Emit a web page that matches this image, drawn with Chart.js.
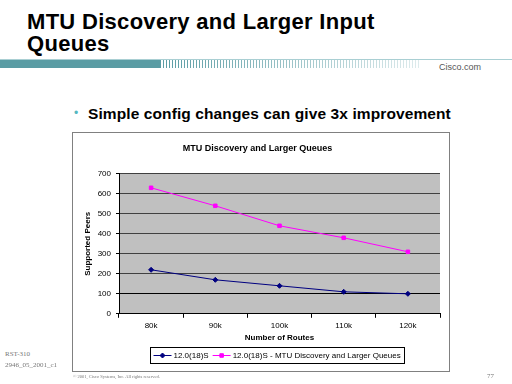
<!DOCTYPE html>
<html>
<head>
<meta charset="utf-8">
<script src="https://cdn.jsdelivr.net/npm/chart.js@4.4.1/dist/chart.umd.min.js"></script>
<style>
  body { margin: 0; width: 512px; height: 384px; background: #fff; position: relative; overflow: hidden; font-family: "Liberation Sans", Arial, sans-serif; }
  .abs { position: absolute; }
  #title { left: 27px; top: 11px; font-size: 22px; font-weight: bold; line-height: 22px; letter-spacing: 0.3px; color: #000; }
  #rule { left: 0; top: 59px; width: 512px; height: 1px; background: #a9cfd3; }
  #bar { left: 0; top: 60px; width: 160px; height: 8px; background: #5a9ca4; }
  #stripes { left: 160px; top: 60px; width: 260px; height: 8px;
    background: linear-gradient(to right, rgba(255,255,255,0), rgba(255,255,255,0.8)),
                repeating-linear-gradient(90deg, #5a9ca4 0 1px, transparent 1px 3px); }
  #cisco { left: 439px; top: 62px; font-size: 9px; color: #555; }
  #bullet { left: 74px; top: 106px; font-size: 12px; color: #55b8c0; }
  #point { left: 88px; top: 105.5px; font-size: 15.5px; line-height: 16px; letter-spacing: 0.1px; font-weight: bold; color: #000; }
  #box { left: 72px; top: 132px; width: 376px; height: 238px; border: 1px solid #808080; }
  .foot { font-family: "Liberation Serif", "Times New Roman", serif; color: #777; }
</style>
</head>
<body>
<div id="title" class="abs">MTU Discovery and Larger Input<br>Queues</div>
<div id="rule" class="abs"></div>
<div id="bar" class="abs"></div>
<div id="stripes" class="abs"></div>
<div id="cisco" class="abs">Cisco.com</div>
<div id="bullet" class="abs">&#8226;</div>
<div id="point" class="abs">Simple config changes can give 3x improvement</div>
<div id="box" class="abs"><canvas id="chart" width="376" height="238"></canvas></div>
<div class="abs foot" style="left:5px;top:350px;font-size:7px;">RST-310</div>
<div class="abs foot" style="left:5px;top:361px;font-size:7px;">2946_05_2001_c1</div>
<div class="abs foot" style="left:73px;top:374px;font-size:4.5px;">&copy; 2001, Cisco Systems, Inc. All rights reserved.</div>
<div class="abs foot" style="left:487px;top:372px;font-size:7px;">77</div>
<script>
const routes = ['80k', '90k', '100k', '110k', '120k'];
const plainPeers = [220, 170, 140, 110, 100];
const mtuPeers = [630, 540, 440, 380, 310];
const seriesNames = ['12.0(18)S', '12.0(18)S - MTU Discovery and Larger Queues'];

const FONT = '"Liberation Sans", Arial, sans-serif';

// grey plot area like the Excel chart
const plotBg = {
    id: 'plotBg',
    beforeDraw(chart) {
        const a = chart.chartArea;
        const ctx = chart.ctx;
        ctx.save();
        ctx.fillStyle = '#c0c0c0';
        ctx.fillRect(a.left, a.top, a.right - a.left, a.bottom - a.top);
        ctx.restore();
    }
};

// boxed legend with line + marker samples
const boxLegend = {
    id: 'boxLegend',
    afterDraw(chart) {
        const ctx = chart.ctx;
        const y = 222.5;
        const left = 77.5;
        ctx.save();
        ctx.font = '8px ' + FONT;
        ctx.textBaseline = 'middle';
        let x = left + 3;
        chart.data.datasets.forEach((ds, i) => {
            if (i > 0) x += 4;
            const x1 = x, x2 = x + 18;
            ctx.strokeStyle = ds.borderColor;
            ctx.lineWidth = 1;
            ctx.beginPath();
            ctx.moveTo(x1, y);
            ctx.lineTo(x2, y);
            ctx.stroke();
            ctx.fillStyle = ds.pointBackgroundColor;
            Chart.helpers.drawPoint(ctx, {
                pointStyle: ds.pointStyle, radius: ds.pointRadius, borderWidth: 1
            }, (x1 + x2) / 2, y);
            ctx.fillStyle = '#000';
            ctx.fillText(ds.label, x2 + 2, y + 0.5);
            x = x2 + 2 + ctx.measureText(ds.label).width;
        });
        ctx.strokeStyle = '#000';
        ctx.lineWidth = 1;
        ctx.strokeRect(left, 214.5, Math.round(x + 4 - left), 16);
        ctx.restore();
    }
};

const ctx = document.getElementById('chart').getContext('2d');
new Chart(ctx, {
    type: 'line',
    data: {
        labels: routes,
        datasets: [{
            label: seriesNames[0],
            data: plainPeers,
            borderColor: '#000080',
            backgroundColor: '#000080',
            pointBackgroundColor: '#000080',
            pointBorderColor: '#000080',
            pointStyle: 'rectRot',
            pointRadius: 2.5,
            borderWidth: 1,
            tension: 0
        }, {
            label: seriesNames[1],
            data: mtuPeers,
            borderColor: '#ff00ff',
            backgroundColor: '#ff00ff',
            pointBackgroundColor: '#ff00ff',
            pointBorderColor: '#ff00ff',
            pointStyle: 'rect',
            pointRadius: 2.5,
            borderWidth: 1,
            tension: 0
        }]
    },
    options: {
        responsive: false,
        animation: false,
        devicePixelRatio: 1,
        layout: { padding: { top: 0, left: 2, right: 9, bottom: 28 } },
        plugins: {
            legend: { display: false },
            tooltip: { enabled: false },
            title: {
                display: true,
                text: 'MTU Discovery and Larger Queues',
                color: '#000',
                font: { family: FONT, size: 9, weight: 'bold' },
                padding: { top: 10, bottom: 20 }
            }
        },
        scales: {
            x: {
                offset: true,
                grid: { offset: true, drawOnChartArea: false, tickLength: 4, tickColor: '#000' },
                border: { color: '#000' },
                ticks: { color: '#000', font: { family: FONT, size: 8 }, padding: 3, maxRotation: 0 },
                title: {
                    display: true, text: 'Number of Routes', color: '#000',
                    font: { family: FONT, size: 8, weight: 'bold' }, padding: { top: 0, bottom: 0 }
                }
            },
            y: {
                min: 0,
                max: 700,
                afterFit: s => { s.width = 44; },
                grid: {
                    color: c => c.tick && c.tick.value === 100 ? '#000' : '#404040',
                    tickLength: 3,
                    tickColor: '#000'
                },
                border: { color: '#000' },
                ticks: { stepSize: 100, color: '#000', font: { family: FONT, size: 8 }, padding: 5 },
                title: {
                    display: true, text: 'Supported Peers', color: '#000',
                    font: { family: FONT, size: 8, weight: 'bold' }, padding: { top: 8, bottom: 0 }
                }
            }
        }
    },
    plugins: [plotBg, boxLegend]
});
</script>
</body>
</html>
